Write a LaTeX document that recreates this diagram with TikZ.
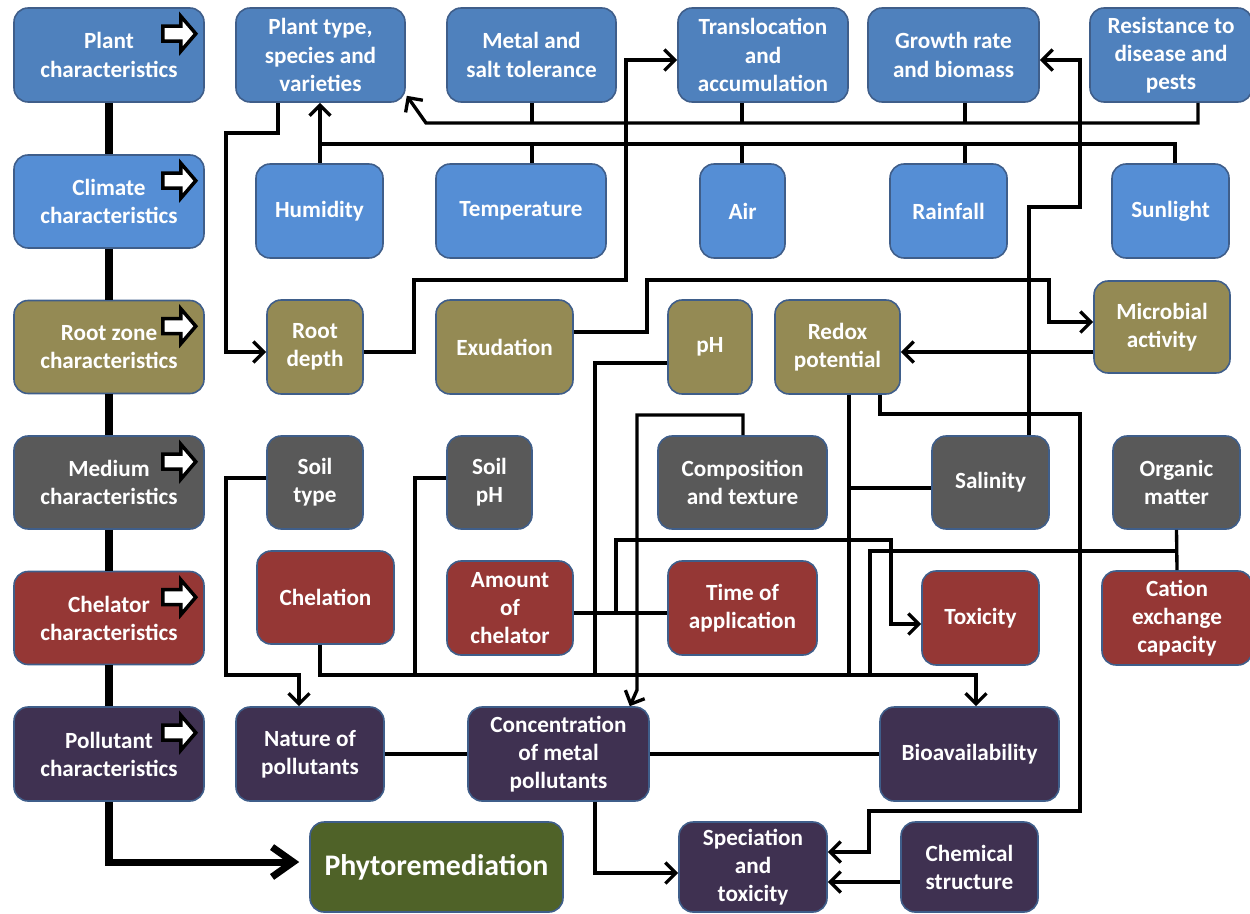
\documentclass[tikz,border=0pt]{standalone}
\usepackage{fontspec}
\setmainfont{Carlito}
\usepackage{tikz}
\usetikzlibrary{arrows.meta}
\definecolor{plantblue}{HTML}{4F81BD}
\definecolor{climblue}{HTML}{558ED5}
\definecolor{rootolive}{HTML}{948A54}
\definecolor{medgrey}{HTML}{595959}
\definecolor{chelred}{HTML}{953735}
\definecolor{pollpurple}{HTML}{3F3151}
\definecolor{phytogreen}{HTML}{4F6228}
\definecolor{edgeblue}{HTML}{3F5E8A}

\begin{document}
\begin{tikzpicture}[x=0.02cm,y=-0.02cm,>={Straight Barb[length=6pt,width=12pt]},
    box/.style={draw=edgeblue, line width=0.9pt, rounded corners=8pt, text=white, align=center, inner sep=1pt, font=\fontsize{13.2}{16}\selectfont\bfseries},
    sz/.style 2 args={minimum width=#1*0.02cm, minimum height=#2*0.02cm},
    link/.style={line width=1.9pt},
    spine/.style={line width=4pt},
    tagarrow/.style={draw, fill=white, line width=2pt}]
          \useasboundingbox (0,0) rectangle (1250,913);

          % Left column
          \node[box, fill=plantblue, sz={190}{94}] (plantc) at (109,55) {Plant\\characteristics};
          \node[box, fill=climblue, sz={190}{93}] (climc) at (109,201.5) {Climate\\characteristics};
          \node[box, fill=rootolive, sz={190}{93}] (rootc) at (109,347) {Root zone\\characteristics};
          \node[box, fill=medgrey, sz={190}{93}] (medc) at (109,482.5) {Medium\\characteristics};
          \node[box, fill=chelred, sz={190}{93}] (chelc) at (109,618) {Chelator\\characteristics};
          \node[box, fill=pollpurple, sz={190}{94}] (pollc) at (109,754) {Pollutant\\characteristics};

          % Plant
          \node[box, fill=plantblue, sz={169}{94}] (ptype) at (320.5,55) {Plant type,\\species and\\varieties};
          \node[box, fill=plantblue, sz={169}{94}] (metal) at (531.5,55) {Metal and\\salt tolerance};
          \node[box, fill=plantblue, sz={170}{94}] (transloc) at (763,55) {Translocation\\and\\accumulation};
          \node[box, fill=plantblue, sz={171}{94}] (growth) at (953.5,55) {Growth rate\\and biomass};
          \node[box, fill=plantblue, sz={162}{94}] (resist) at (1171,55) {Resistance to\\disease and\\pests};

          % Climate
          \node[box, fill=climblue, sz={127}{94}] (hum) at (319.5,211) {Humidity};
          \node[box, fill=climblue, sz={170}{94}] (temp) at (521,211) {Temperature};
          \node[box, fill=climblue, sz={85}{94}] (air) at (742.5,211) {Air};
          \node[box, fill=climblue, sz={117}{94}] (rain) at (948.5,211) {Rainfall};
          \node[box, fill=climblue, sz={117}{94}] (sun) at (1170.5,211) {Sunlight};

          % Root zone
          \node[box, fill=rootolive, sz={96}{94}] (rootd) at (315,347) {Root\\depth};
          \node[box, fill=rootolive, sz={137}{94}] (exud) at (504.5,347) {Exudation};
          \node[box, fill=rootolive, sz={84}{94}] (ph) at (710,347) {pH};
          \node[box, fill=rootolive, sz={125}{94}] (redox) at (837.5,347) {Redox\\potential};
          \node[box, fill=rootolive, sz={136}{92}] (micro) at (1162,327) {Microbial\\activity};

          % Medium
          \node[box, fill=medgrey, sz={96}{93}] (soilt) at (315,482.5) {Soil\\type};
          \node[box, fill=medgrey, sz={85}{93}] (soilph) at (489.5,482.5) {Soil\\pH};
          \node[box, fill=medgrey, sz={169}{93}] (comp) at (742.5,482.5) {Composition\\and texture};
          \node[box, fill=medgrey, sz={117}{93}] (sal) at (990.5,482.5) {Salinity};
          \node[box, fill=medgrey, sz={127}{93}] (org) at (1176.5,482.5) {Organic\\matter};

          % Chelator
          \node[box, fill=chelred, sz={137}{93}] (chel) at (325.5,597.5) {Chelation};
          \node[box, fill=chelred, sz={126}{94}] (amount) at (510,608) {Amount\\of\\chelator};
          \node[box, fill=chelred, sz={149}{94}] (time) at (742.5,608) {Time of\\application};
          \node[box, fill=chelred, sz={117}{94}] (tox) at (980.5,618) {Toxicity};
          \node[box, fill=chelred, sz={150}{94}] (cec) at (1177,618) {Cation\\exchange\\capacity};

          % Pollutant
          \node[box, fill=pollpurple, sz={148}{94}] (nat) at (310,754) {Nature of\\pollutants};
          \node[box, fill=pollpurple, sz={181}{94}] (conc) at (558.5,754) {Concentration\\of metal\\pollutants};
          \node[box, fill=pollpurple, sz={179}{94}] (bio) at (969.5,754) {Bioavailability};
          \node[box, fill=pollpurple, sz={148}{90}] (spec) at (753,867) {Speciation\\and\\toxicity};
          \node[box, fill=pollpurple, sz={137}{90}] (chem) at (969.5,867) {Chemical\\structure};
          \node[box, fill=phytogreen, sz={253}{90}, font=\fontsize{17}{20}\selectfont\bfseries] (phyto) at (436.5,867) {Phytoremediation};

          % Junctions
          \coordinate (t0) at (426,123);
          \coordinate (t1) at (532,123);
          \coordinate (t2) at (742,123);
          \coordinate (t3) at (965,123);
          \coordinate (t4) at (1198,123);
          \coordinate (b0) at (320,144);
          \coordinate (b1) at (532,144);
          \coordinate (b2) at (742,144);
          \coordinate (b3) at (965,144);
          \coordinate (b4) at (1175,144);
          \coordinate (c1) at (278,133);
          \coordinate (c2) at (226,133);
          \coordinate (c3) at (226,352);
          \coordinate (d1) at (414,352);
          \coordinate (d2) at (414,280);
          \coordinate (d3) at (626,280);
          \coordinate (d4) at (626,60);
          \coordinate (e1) at (647,332);
          \coordinate (e2) at (647,280);
          \coordinate (e3) at (1049,280);
          \coordinate (e4) at (1049,322);
          \coordinate (s1) at (1029,207);
          \coordinate (s2) at (1080,207);
          \coordinate (s3) at (1080,60);
          \coordinate (r1) at (1000,352);
          \coordinate (p1) at (595,363);
          \coordinate (p2) at (595,675);
          \coordinate (u0) at (320,675);
          \coordinate (u1) at (976,675);
          \coordinate (q1) at (415,478);
          \coordinate (q2) at (415,675);
          \coordinate (v1) at (849,675);
          \coordinate (v2) at (849,488);
          \coordinate (w1) at (1176,551);
          \coordinate (w2) at (870,551);
          \coordinate (w3) at (870,675);
          \coordinate (x1) at (880,414);
          \coordinate (x2) at (1080,414);
          \coordinate (x3) at (1080,811);
          \coordinate (x4) at (869,811);
          \coordinate (x5) at (869,852);
          \coordinate (k1) at (743,415);
          \coordinate (k2) at (637,415);
          \coordinate (k3) at (637,690);
          \coordinate (h1) at (616,613);
          \coordinate (h2) at (616,540);
          \coordinate (h3) at (891,540);
          \coordinate (h4) at (891,624);
          \coordinate (g1) at (226,478);
          \coordinate (g2) at (226,675);
          \coordinate (g3) at (299,675);
          \coordinate (n1) at (595,873);
          \coordinate (o1) at (860,882);
          \coordinate (z) at (109,862);

          % Left spine
          \foreach \a/\b in {plantc/climc, climc/rootc, rootc/medc, medc/chelc, chelc/pollc}
            \draw[spine] (\a.south) -- (\b.north);
          \draw[spine, -{Straight Barb[length=12pt,width=17pt]}] (pollc.south) -- (z) -- ([xshift=-0.2cm]z -| phyto.west);
          \foreach \n in {plantc, climc, rootc, medc, chelc, pollc}
            \draw[tagarrow, shift={(\n.north east)}] (-42,19) -- (-24,19) -- (-24,9) -- (-9,26.5) -- (-24,44) -- (-24,34) -- (-42,34) -- cycle;

          % Plant and climate buses
          \draw[link, ->] (resist.south -| t4) -- (t4) -- (t0) -- ([shift={(1,-7)}]ptype.south east);
          \draw[link] (metal.south -| t1) -- (t1);
          \draw[link] (transloc.south -| t2) -- (t2);
          \draw[link] (growth.south -| t3) -- (t3);
          \draw[link] (sun.north -| b4) -- (b4) -- (b0);
          \draw[link, ->] (hum.north -| b0) -- (ptype.south -| b0);
          \draw[link] (temp.north -| b1) -- (b1);
          \draw[link] (air.north -| b2) -- (b2);
          \draw[link] (rain.north -| b3) -- (b3);

          % Root zone
          \draw[link, ->] (ptype.south -| c1) -- (c1) -- (c2) -- (c3) -- (c3 -| rootd.west);
          \draw[link, ->] (rootd.east |- d1) -- (d1) -- (d2) -- (d3) -- (d4) -- (d4 -| transloc.west);
          \draw[link, ->] (exud.east |- e1) -- (e1) -- (e2) -- (e3) -- (e4) -- (e4 -| micro.west);
          \draw[link, ->] (sal.north -| s1) -- (s1) -- (s2) -- (s3) -- (s3 -| growth.east);
          \draw[link, ->] (r1 -| micro.west) -- (r1 -| redox.east);
          \draw[link] (ph.west |- p1) -- (p1) -- (p2);
          \draw[link, ->] (redox.south -| x1) -- (x1) -- (x2) -- (x3) -- (x4) -- (x5) -- (x5 -| spec.east);

          % Bus to bioavailability
          \draw[link, ->] (chel.south -| u0) -- (u0) -- (u1) -- (u1 |- bio.north);
          \draw[link] (soilph.west |- q1) -- (q1) -- (q2);
          \draw[link] (redox.south -| v1) -- (v1);
          \draw[link] (sal.west |- v2) -- (v2);
          \draw[link] (org.south) -- (cec.north);
          \draw[link] (w1) -- (w2) -- (w3);

          % Medium and chelator
          \draw[link, ->] (comp.north -| k1) -- (k1) -- (k2) -- (k3) -- ([xshift=-0.4cm]conc.north east);
          \draw[link] (amount.east |- h1) -- (time.west |- h1);
          \draw[link, ->] (h1) -- (h2) -- (h3) -- (h4) -- (h4 -| tox.west);
          \draw[link, ->] (soilt.west |- g1) -- (g1) -- (g2) -- (g3) -- (g3 |- nat.north);

          % Pollutant
          \draw[link] (nat.east) -- (conc.west);
          \draw[link] (conc.east) -- (bio.west);
          \draw[link, ->] (conc.south -| n1) -- (n1) -- (n1 -| spec.west);
          \draw[link, ->] (chem.west |- o1) -- (o1 -| spec.east);
\end{tikzpicture}
\end{document}
